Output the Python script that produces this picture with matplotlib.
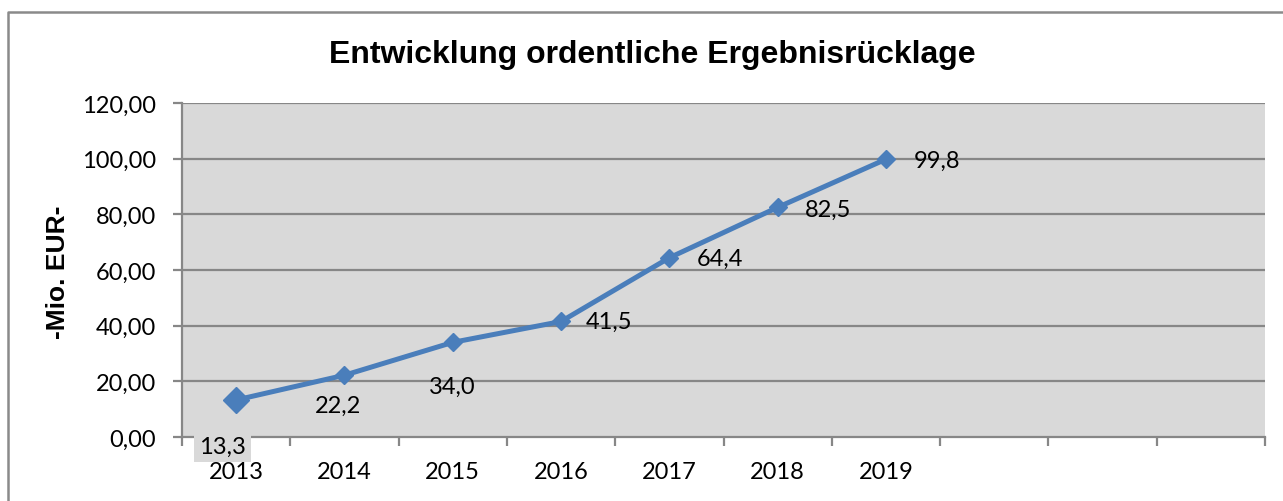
import matplotlib
matplotlib.use("Agg")
import matplotlib.pyplot as plt
from matplotlib.lines import Line2D

# ---- data ----
categories = ["2013", "2014", "2015", "2016", "2017", "2018", "2019", "", "", ""]
years = ["2013", "2014", "2015", "2016", "2017", "2018", "2019"]
values = [13.3, 22.2, 34.0, 41.5, 64.4, 82.5, 99.8]
value_labels = ["13,3", "22,2", "34,0", "41,5", "64,4", "82,5", "99,8"]
y_ticks = [0, 20, 40, 60, 80, 100, 120]
y_tick_labels = ["0,00", "20,00", "40,00", "60,00", "80,00", "100,00", "120,00"]
title = "Entwicklung ordentliche Ergebnisrücklage"
y_label = "-Mio. EUR-"

# label placement (pixel offsets from the point), styling only
label_offsets = [(-14, -46), (-6, -30), (-1, -44), (25, 0), (27, -1), (27, -2), (28, -1)]
label_ha = ["center", "center", "center", "left", "left", "left", "left"]

W, H = 1283, 502
fig = plt.figure(figsize=(W / 100, H / 100), dpi=100)
fig.patch.set_facecolor("white")

body_font = ["Lato", "DejaVu Sans"]
bold_font = ["Liberation Sans", "DejaVu Sans"]
fs = 17

left, right, top, bottom = 182, 1265, 104, 438
ax = fig.add_axes([left / W, 1 - bottom / H, (right - left) / W, (bottom - top) / H])
ax.set_facecolor("#d9d9d9")

n = len(categories)
ax.set_xlim(-0.5, n - 0.5)
ax.set_ylim(0, 120)

grid_color = "#878787"
for yv in y_ticks[1:]:
    ax.axhline(yv, color=grid_color, lw=1.6, zorder=1)

xs = list(range(len(values)))
line_color = "#4a7ebb"
ax.plot(xs, values, color=line_color, lw=3.6, zorder=3, solid_joinstyle="round")
ax.plot(xs[1:], values[1:], ls="none", marker="D", ms=9.0, color=line_color,
        mec=line_color, zorder=4)
ax.plot(xs[:1], values[:1], ls="none", marker="D", ms=13.0, color=line_color,
        mec=line_color, zorder=4)

for i, (x, v, lab) in enumerate(zip(xs, values, value_labels)):
    kw = {}
    if i == 0:
        kw["bbox"] = dict(boxstyle="square,pad=0.22", fc="#d9d9d9", ec="none")
    ax.annotate(lab, (x, v), xytext=label_offsets[i], textcoords="offset pixels",
                ha=label_ha[i], va="center", fontsize=fs, family=body_font,
                color="black", zorder=5, annotation_clip=False, **kw)

# spines
for s in ["top", "right"]:
    ax.spines[s].set_visible(False)
for s in ["left", "bottom"]:
    ax.spines[s].set_color(grid_color)
    ax.spines[s].set_linewidth(1.6)

# ticks
ax.set_yticks(y_ticks)
ax.set_yticklabels(y_tick_labels)
ax.tick_params(axis="y", direction="out", length=6.5, width=1.6, color=grid_color,
               pad=12, labelsize=fs)
ax.set_xticks([i - 0.5 for i in range(n + 1)])
ax.set_xticklabels([])
ax.set_xticks(range(len(years)), minor=True)
ax.set_xticklabels(years, minor=True)
ax.tick_params(axis="x", which="major", direction="out", length=6.5, width=1.6,
               color=grid_color)
ax.tick_params(axis="x", which="minor", length=0, pad=17, labelsize=fs)
for lbl in ax.get_yticklabels() + ax.get_xticklabels(minor=True):
    lbl.set_family(body_font)

fig.text(58 / W, 1 - 272 / H, y_label, rotation=90, ha="center", va="center",
         fontsize=19, fontweight="bold", family=bold_font)
fig.text(652 / W, 1 - 55 / H, title, ha="center", va="center",
         fontsize=23, fontweight="bold", family=bold_font)

# outer chart border (continues beyond the right and bottom edges)
fig.add_artist(Line2D([8 / W, 8 / W, 1.01], [-0.01, 1 - 13 / H, 1 - 13 / H],
                      transform=fig.transFigure, color="#8a8a8a", lw=1.8))

fig.savefig("out.png", dpi=100)
